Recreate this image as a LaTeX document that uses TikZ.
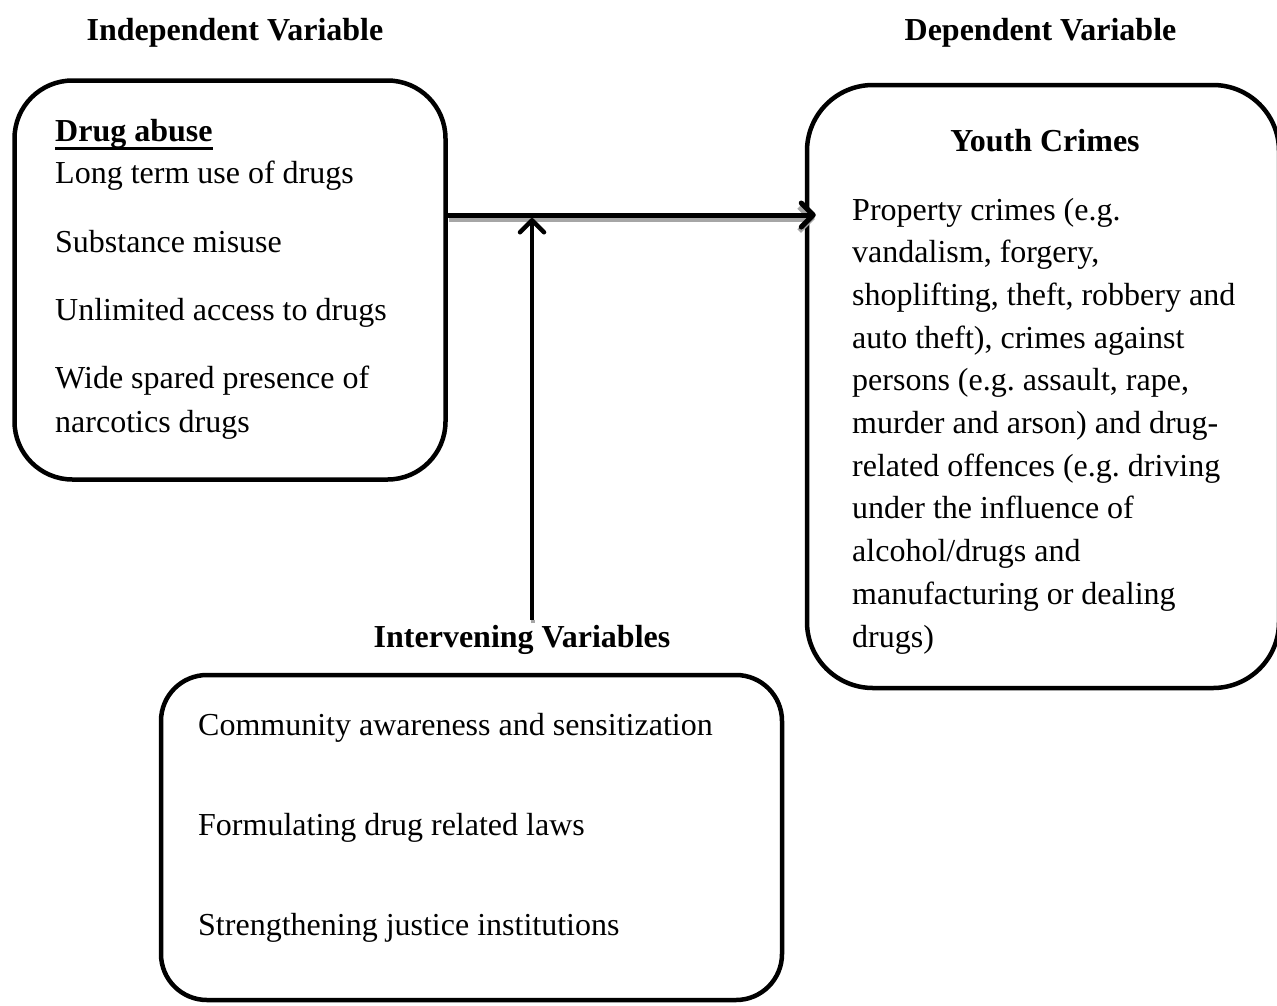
\documentclass[tikz,border=0pt]{standalone}
\usepackage{fontspec}
\setmainfont{Liberation Serif}
\usetikzlibrary{arrows.meta}
\frenchspacing
\begin{document}
\begin{tikzpicture}[x=1pt,y=-1pt,
  box/.style={draw=black,line width=4.5pt,rounded corners=#1,inner sep=0pt},
  txt/.style={anchor=base west,inner sep=0pt,font=\fontsize{32}{42.7}\selectfont},
  head/.style={anchor=base,inner sep=0pt,font=\fontsize{32}{42.7}\selectfont\bfseries},
  conn/.style={line width=5pt,-{Straight Barb[length=12pt,width=24pt,line cap=round,line join=round]}},
  shad/.style={line width=5pt,draw=black!35,-{Straight Barb[length=12pt,width=24pt]}}]
\useasboundingbox (0,0) rectangle (1277,1005);
\fill[white] (0,0) rectangle (1277,1005);

% boxes
\node[box=58pt,minimum width=431pt,minimum height=399pt] (iv) at (230,280) {};
\node[box=66pt,minimum width=472pt,minimum height=603pt] (dv) at (1043,386.5) {};
\node[box=46pt,minimum width=621pt,minimum height=325pt] (mv) at (471.5,837.5) {};

% headings
\node[head] (ivh) at (235,40) {Independent Variable};
\node[head] (dvh) at (1040.5,40) {Dependent Variable};
\node[head] (mvh) at (522,647) {Intervening Variables};

% left box text
\node[txt,font=\fontsize{32}{42.7}\selectfont\bfseries] (da) at (55,141.7) {Drug abuse};
\draw[line width=2.6pt] ([yshift=-6.5pt]da.base west) -- ([yshift=-6.5pt]da.base east);
\node[txt] (l1) at (55,183) {Long term use of drugs};
\node[txt] (l2) at (55,252) {Substance misuse};
\node[txt] (l3) at (55,320) {Unlimited access to drugs};
\node[txt] (l4) at (55,388) {Wide spared presence of};
\node[txt] (l5) at (55,432) {narcotics drugs};

% right box text
\node[head] (yc) at (1045,151.7) {Youth Crimes};
\foreach \t [count=\i from 0] in {{Property crimes (e.g.},{vandalism, forgery,},{shoplifting, theft, robbery and},{auto theft), crimes against},{persons (e.g. assault, rape,},{murder and arson) and drug-},{related offences (e.g. driving},{under the influence of},{alcohol/drugs and},{manufacturing or dealing},{drugs)}}
  \node[txt] (r\i) at (852,220+42.7*\i) {\t};

% bottom box text
\node[txt] (m1) at (198,735) {Community awareness and sensitization};
\node[txt] (m2) at (198,835) {Formulating drug related laws};
\node[txt] (m3) at (198,935) {Strengthening justice institutions};

% connectors
\coordinate (hlev) at (0,215);
\coordinate (hs) at (iv.east |- hlev);
\coordinate (he) at ([xshift=11pt]dv.west |- hlev);
\coordinate (vb) at (532,620);
\coordinate (vt) at (532,218);
\draw[shad] ([shift={(1.5pt,-4pt)}]hs) -- ([shift={(-1pt,-4pt)}]he);
\draw[conn] (hs) -- (he);
\draw[line width=4.5pt,draw=black!35] ([shift={(1pt,-3pt)}]vb) -- ([shift={(1pt,0pt)}]vb);
\draw[conn,line width=4.5pt] (vb) -- (vt);
\end{tikzpicture}
\end{document}
